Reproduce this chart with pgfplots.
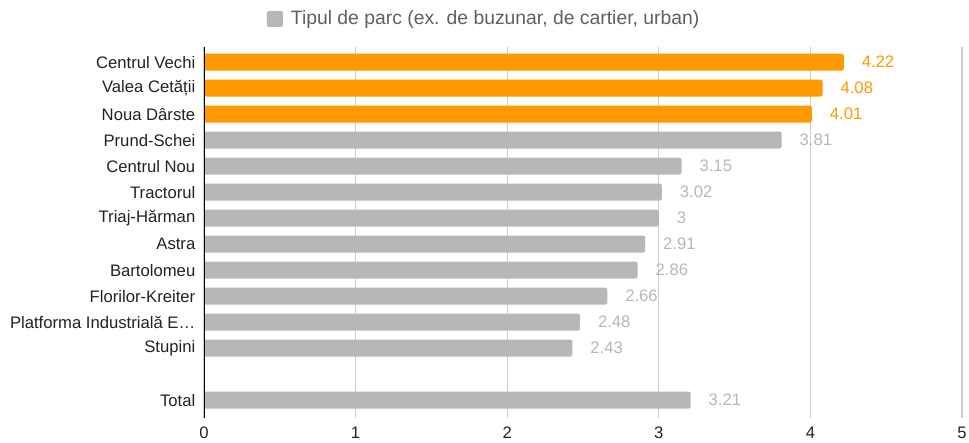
\documentclass[border=0pt]{standalone}
\usepackage{pgfplots}
\usepackage{pgfplotstable}
\pgfplotsset{compat=1.18}
\usepackage{fontspec}
\setmainfont{Liberation Sans}
\definecolor{og}{HTML}{FF9900}
\definecolor{gb}{HTML}{B7B7B7}
\definecolor{gridc}{HTML}{CCCCCC}
\definecolor{txt}{HTML}{222222}
\definecolor{legtxt}{HTML}{5F5F5F}

\pgfplotstableread{
y x lab
13 4.22 4.22
12 4.08 4.08
11 4.01 4.01
}\orangedata

\pgfplotstableread{
y x lab
10 3.81 3.81
9 3.15 3.15
8 3.02 3.02
7 3 3
6 2.91 2.91
5 2.86 2.86
4 2.66 2.66
3 2.48 2.48
2 2.43 2.43
0 3.21 3.21
}\graydata

\begin{document}
\begin{tikzpicture}
\begin{axis}[
  at={(153pt,18pt)}, anchor=south west,
  scale only axis, width=568.5pt, height=278.25pt,
  xmin=0, xmax=5, ymin=-0.69, ymax=13.58,
  axis line style={draw=none},
  xtick={0,1,2,3,4,5},
  xmajorgrids, grid style={gridc, line width=0.8pt},
  major tick length=0pt,
  ytick={13,12,11,10,9,8,7,6,5,4,3,2,0},
  yticklabels={Centrul Vechi,Valea Cetății,Noua Dârste,Prund-Schei,Centrul Nou,Tractorul,Triaj-Hărman,Astra,Bartolomeu,Florilor-Kreiter,Platforma Industrială E…,Stupini,Total},
  yticklabel style={font=\fontsize{12.5}{14}\selectfont, text=txt, xshift=-3pt},
  xticklabel style={font=\fontsize{12.5}{14}\selectfont, text=txt, yshift=-3pt},
  /pgf/number format/assume math mode=true,
  xbar, bar width=0.65, bar shift=0pt,
  point meta=explicit symbolic,
  nodes near coords,
  nodes near coords style={font=\fontsize{12.5}{14}\selectfont, anchor=west, xshift=10pt},
  legend style={at={(0.37,1.0755)}, anchor=center, draw=none, fill=none,
    font=\fontsize{14.5}{17}\selectfont, text=legtxt, /tikz/every odd column/.append style={column sep=4pt}},
  legend image code/.code={\fill[gb, rounded corners=1.5pt] (0pt,-6pt) rectangle (12pt,6pt);},
]
\addplot[fill=og, draw=none, rounded corners=1.5pt, every node near coord/.append style={text=og}, forget plot]
  table[x=x, y=y, meta=lab] {\orangedata};
\addplot[fill=gb, draw=none, rounded corners=1.5pt, every node near coord/.append style={text=gb}]
  table[x=x, y=y, meta=lab] {\graydata};
\addlegendentry{Tipul de parc (ex. de buzunar, de cartier, urban)}
\draw[black, line width=0.8pt] (axis cs:0,-0.69) -- (axis cs:0,13.58);
\end{axis}
\pgfresetboundingbox
\path[use as bounding box] (0,0) rectangle (726.75pt,331.5pt);
\end{tikzpicture}
\end{document}
